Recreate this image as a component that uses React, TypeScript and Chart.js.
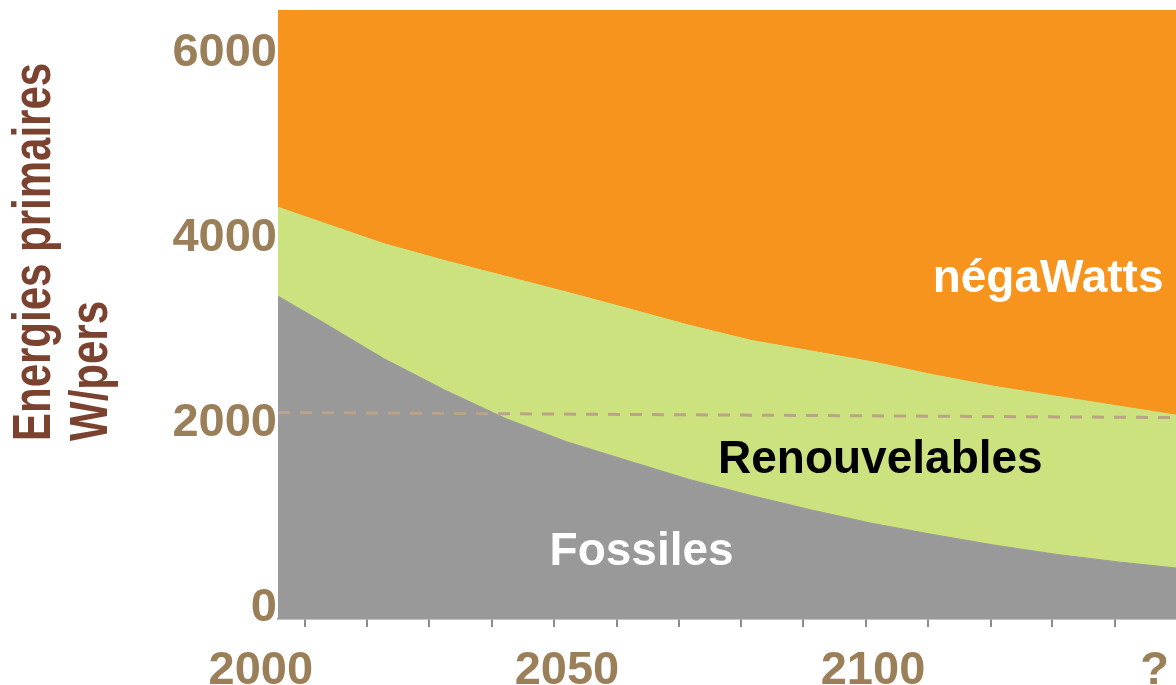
import React, { useEffect, useRef } from 'react';
import { Chart, registerables } from 'chart.js';

Chart.register(...registerables);

// ---- data ----
const years = [2002.8, 2010, 2020, 2030, 2040, 2050, 2060, 2070, 2080, 2090, 2100, 2110, 2120, 2130, 2140, 2149.5];
const fossiles = [3373, 3097, 2701, 2359, 2049, 1797, 1593, 1390, 1218, 1059, 913, 792, 678, 579, 498, 432];
const renouvelables = [962, 1074, 1242, 1400, 1539, 1620, 1646, 1668, 1678, 1720, 1749, 1729, 1717, 1711, 1687, 1654];
const refYears = [2002.8, 2149.5];
const refValues = [2115, 2060];

const xTickYears = [2007.2, 2017.4, 2027.5, 2037.7, 2047.9, 2058.1, 2068.3, 2078.4, 2088.6, 2098.8, 2109.0, 2119.2, 2129.3, 2139.5];
const xLabelYears = [2000, 2050, 2100, 2146];
const xLabelTexts = ['2000', '2050', '2100', '?'];
const yTickValues = [0, 2000, 4000, 6000];
const yTitleLines = ['Energies primaires', 'W/pers'];

const areaLabelTexts = ['négaWatts', 'Renouvelables', 'Fossiles'];
const areaLabelYears = [2128.6, 2101.2, 2062.2];
const areaLabelValues = [3416, 1459, 465];

// ---- styles ----
const FONT = '"Liberation Sans", Arial, Helvetica, sans-serif';
const TICK_COLOR = '#9A7F58';
const TITLE_COLOR = '#7B4230';
const GRAY = '#999999';
const GREEN = '#CBE27F';
const ORANGE = '#F7941E';
const areaLabelColors = ['#FFFFFF', '#000000', '#FFFFFF'];

const textPlugin = {
  id: 'textPlugin',
  afterDatasetsDraw(chart: any) {
    const { ctx } = chart;
    const xs = chart.scales.x;
    const ys = chart.scales.y;
    ctx.save();
    ctx.font = `bold 46px ${FONT}`;
    ctx.textAlign = 'center';
    ctx.textBaseline = 'alphabetic';
    areaLabelTexts.forEach((t, i) => {
      ctx.fillStyle = areaLabelColors[i];
      ctx.fillText(t, xs.getPixelForValue(areaLabelYears[i]), ys.getPixelForValue(areaLabelValues[i]));
    });
    ctx.restore();
  },
  afterDraw(chart: any) {
    const { ctx, chartArea } = chart;
    const xs = chart.scales.x;
    ctx.save();
    // x labels
    ctx.font = `bold 47px ${FONT}`;
    ctx.fillStyle = TICK_COLOR;
    ctx.textAlign = 'center';
    ctx.textBaseline = 'alphabetic';
    xLabelYears.forEach((yr, i) => {
      ctx.fillText(xLabelTexts[i], xs.getPixelForValue(yr), chartArea.bottom + 65);
    });
    // y title (rotated)
    ctx.font = `bold 42px ${FONT}`;
    ctx.fillStyle = TITLE_COLOR;
    ctx.textAlign = 'left';
    const baselines = [50, 107];
    yTitleLines.forEach((line, i) => {
      ctx.save();
      ctx.translate(baselines[i], 441);
      ctx.rotate(-Math.PI / 2);
      ctx.scale(1, 1.27);
      ctx.fillText(line, 0, 0);
      ctx.restore();
    });
    ctx.restore();
  },
};

export default function App() {
  const canvasRef = useRef<HTMLCanvasElement | null>(null);

  useEffect(() => {
    if (!canvasRef.current) return;
    const totals = years.map((_, i) => fossiles[i] + renouvelables[i]);
    const chart = new Chart(canvasRef.current, {
      type: 'line',
      data: {
        datasets: [
          {
            label: 'Fossiles',
            data: years.map((x, i) => ({ x, y: fossiles[i] })),
            borderColor: GRAY,
            borderWidth: 1,
            backgroundColor: GRAY,
            fill: 'start',
            pointRadius: 0,
            tension: 0,
            order: 0,
          },
          {
            label: 'Renouvelables',
            data: years.map((x, i) => ({ x, y: totals[i] })),
            borderColor: GREEN,
            borderWidth: 1,
            backgroundColor: GREEN,
            fill: '-1',
            pointRadius: 0,
            tension: 0,
            order: 1,
          },
          {
            label: 'négaWatts',
            data: years.map((x, i) => ({ x, y: totals[i] })),
            borderColor: ORANGE,
            borderWidth: 0,
            backgroundColor: ORANGE,
            fill: 'end',
            pointRadius: 0,
            tension: 0,
            order: 2,
          },
          {
            label: 'référence',
            data: refYears.map((x, i) => ({ x, y: refValues[i] })),
            borderColor: '#BBA385',
            borderWidth: 3,
            borderDash: [12, 10],
            fill: false,
            pointRadius: 0,
            order: -1,
          },
        ],
      },
      options: {
        animation: false,
        responsive: true,
        maintainAspectRatio: false,
        layout: { padding: { top: 10, left: 0, right: 0, bottom: 0 } },
        plugins: { legend: { display: false }, tooltip: { enabled: false } },
        scales: {
          x: {
            type: 'linear',
            min: years[0],
            max: years[years.length - 1],
            afterBuildTicks: (s: any) => {
              s.ticks = xTickYears.map((v) => ({ value: v }));
            },
            afterFit: (s: any) => {
              s.height = 66;
              s.paddingLeft = 0;
              s.paddingRight = 0;
            },
            grid: { display: true, drawOnChartArea: false, drawTicks: true, tickLength: 8, color: '#8C8C8C', lineWidth: 2 },
            border: { display: true, color: '#8C8C8C', width: 1.5 },
            ticks: { display: false },
          },
          y: {
            type: 'linear',
            min: -120,
            max: 6470,
            afterBuildTicks: (s: any) => {
              s.ticks = yTickValues.map((v) => ({ value: v }));
            },
            afterFit: (s: any) => {
              s.width = 278;
              s.paddingTop = 0;
              s.paddingBottom = 0;
            },
            grid: { display: false, drawTicks: false },
            border: { display: false },
            ticks: {
              color: TICK_COLOR,
              padding: 1,
              font: { family: FONT, size: 47, weight: 'bold' },
              callback: (v: any) => String(v),
            },
          },
        },
      },
      plugins: [textPlugin],
    } as any);
    return () => chart.destroy();
  }, []);

  return (
    <div style={{ position: 'fixed', left: 0, top: 0, width: 1176, height: 685, background: '#fff' }}>
      <canvas ref={canvasRef} />
    </div>
  );
}
